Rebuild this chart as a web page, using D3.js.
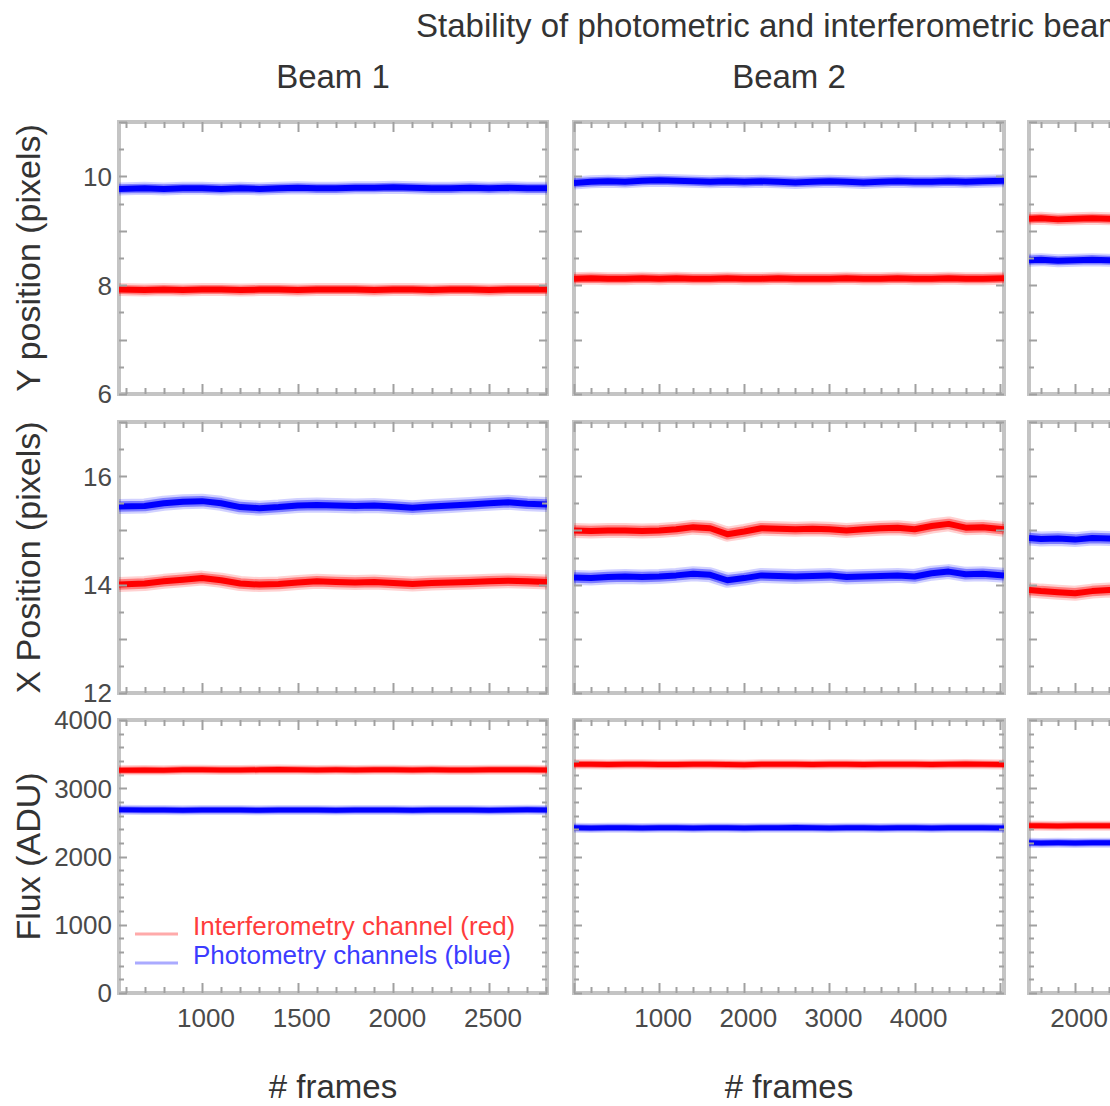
<!DOCTYPE html>
<html>
<head>
<meta charset="utf-8">
<script src="https://cdn.jsdelivr.net/npm/d3@7"></script>
<style>
  body { margin: 0; background: #fff; }
  svg { display: block; }
  text { font-family: "Liberation Sans", Arial, Helvetica, sans-serif; }
</style>
</head>
<body>
<svg id="chart" width="1110" height="1106"></svg>
<script>
// ---- Beam 1 (frames sampled every 100) ----
const beam1Frames    = [566, 700, 800, 900, 1000, 1100, 1200, 1300, 1400, 1500, 1600, 1700, 1800, 1900, 2000, 2100, 2200, 2300, 2400, 2500, 2600, 2700, 2803];
const beam1YBlue     = [9.77, 9.78, 9.77, 9.78, 9.78, 9.77, 9.78, 9.77, 9.78, 9.79, 9.78, 9.78, 9.79, 9.79, 9.80, 9.79, 9.78, 9.78, 9.79, 9.78, 9.79, 9.78, 9.78];
const beam1YRed      = [7.92, 7.91, 7.92, 7.91, 7.92, 7.92, 7.91, 7.92, 7.92, 7.91, 7.92, 7.92, 7.92, 7.91, 7.92, 7.92, 7.91, 7.92, 7.92, 7.91, 7.92, 7.92, 7.92];
const beam1XBlue     = [15.44, 15.45, 15.50, 15.53, 15.54, 15.50, 15.43, 15.41, 15.43, 15.46, 15.47, 15.46, 15.45, 15.46, 15.44, 15.42, 15.44, 15.46, 15.48, 15.50, 15.52, 15.49, 15.48];
const beam1XRed      = [14.00, 14.02, 14.06, 14.09, 14.12, 14.08, 14.02, 14.00, 14.01, 14.04, 14.06, 14.05, 14.04, 14.05, 14.03, 14.01, 14.03, 14.04, 14.05, 14.06, 14.07, 14.06, 14.05];
const beam1FluxRed   = [3262, 3268, 3265, 3270, 3272, 3268, 3266, 3270, 3274, 3270, 3268, 3271, 3269, 3272, 3270, 3267, 3270, 3268, 3266, 3270, 3272, 3270, 3268];
const beam1FluxBlue  = [2684, 2680, 2682, 2679, 2681, 2683, 2680, 2678, 2681, 2682, 2680, 2679, 2681, 2683, 2680, 2678, 2680, 2682, 2681, 2679, 2682, 2684, 2680];

// ---- Beam 2 (frames sampled every 200) ----
const beam2Frames    = [0, 200, 400, 600, 800, 1000, 1200, 1400, 1600, 1800, 2000, 2200, 2400, 2600, 2800, 3000, 3200, 3400, 3600, 3800, 4000, 4200, 4400, 4600, 4800, 5050];
const beam2YBlue     = [9.88, 9.90, 9.91, 9.90, 9.92, 9.93, 9.92, 9.91, 9.90, 9.91, 9.90, 9.91, 9.90, 9.89, 9.90, 9.91, 9.90, 9.89, 9.90, 9.91, 9.90, 9.90, 9.91, 9.90, 9.91, 9.92];
const beam2YRed      = [8.12, 8.13, 8.12, 8.12, 8.13, 8.12, 8.13, 8.12, 8.12, 8.13, 8.12, 8.12, 8.13, 8.12, 8.12, 8.12, 8.13, 8.12, 8.12, 8.13, 8.12, 8.12, 8.13, 8.12, 8.12, 8.13];
const beam2XRed      = [15.00, 14.99, 15.00, 15.00, 14.99, 15.00, 15.02, 15.06, 15.04, 14.93, 14.98, 15.04, 15.03, 15.02, 15.03, 15.02, 15.00, 15.02, 15.04, 15.05, 15.02, 15.08, 15.12, 15.05, 15.06, 15.02];
const beam2XBlue     = [14.13, 14.12, 14.14, 14.15, 14.14, 14.15, 14.17, 14.20, 14.18, 14.08, 14.12, 14.17, 14.16, 14.15, 14.16, 14.17, 14.14, 14.15, 14.16, 14.17, 14.15, 14.21, 14.24, 14.19, 14.20, 14.17];
const beam2FluxRed   = [3350, 3352, 3348, 3351, 3353, 3349, 3347, 3350, 3352, 3349, 3346, 3350, 3353, 3351, 3348, 3350, 3352, 3349, 3351, 3350, 3353, 3348, 3351, 3354, 3350, 3349];
const beam2FluxBlue  = [2420, 2418, 2421, 2423, 2419, 2420, 2422, 2418, 2420, 2421, 2417, 2420, 2423, 2425, 2421, 2419, 2420, 2422, 2418, 2421, 2420, 2419, 2422, 2420, 2421, 2419];

// ---- Beam 3 (frames sampled every 200) ----
const beam3Frames    = [1460, 1600, 1800, 2000, 2200, 2400, 2600, 2800];
const beam3YRed      = [9.22, 9.23, 9.21, 9.22, 9.23, 9.22, 9.21, 9.22];
const beam3YBlue     = [8.46, 8.47, 8.45, 8.46, 8.47, 8.46, 8.45, 8.46];
const beam3XBlue     = [14.86, 14.84, 14.85, 14.83, 14.86, 14.85, 14.84, 14.85];
const beam3XRed      = [13.90, 13.88, 13.86, 13.84, 13.88, 13.90, 13.87, 13.88];
const beam3FluxRed   = [2450, 2452, 2448, 2451, 2449, 2450, 2452, 2450];
const beam3FluxBlue  = [2200, 2198, 2201, 2199, 2202, 2200, 2198, 2200];

// ---- Axes and labels ----
const beamTitles      = ["Beam 1", "Beam 2", "Beam 3"];
const rowTitles       = ["Y position (pixels)", "X Position (pixels)", "Flux (ADU)"];
const yPosTicks       = [6, 8, 10];
const xPosTicks       = [12, 14, 16];
const fluxTicks       = [0, 1000, 2000, 3000, 4000];
const beam1FrameTicks = [1000, 1500, 2000, 2500];
const beam2FrameTicks = [1000, 2000, 3000, 4000];
const beam3FrameTicks = [2000, 3000, 4000, 5000, 6000];
const legendLabels    = ["Interferometry channel (red)", "Photometry channels (blue)"];
const chartTitle      = "Stability of photometric and interferometric beams";
const xAxisTitle      = "# frames";

const RED = "#ff0000", BLUE = "#0000ff";
const FRAME = "#c4c4c4", TICK = "#a0a0a0", LABEL = "#4a4a4a", INK = "#333";

const svg = d3.select("#chart");

const columns = [
  { left: 119,  width: 428, domain: [566, 2803], minor: 100, major: 500,  ticks: beam1FrameTicks, frames: beam1Frames,
    rows: [[beam1YRed, beam1YBlue], [beam1XRed, beam1XBlue], [beam1FluxRed, beam1FluxBlue]] },
  { left: 574,  width: 430, domain: [0, 5050],   minor: 200, major: 1000, ticks: beam2FrameTicks, frames: beam2Frames,
    rows: [[beam2YRed, beam2YBlue], [beam2XRed, beam2XBlue], [beam2FluxRed, beam2FluxBlue]] },
  { left: 1029, width: 430, domain: [1460, 6500], minor: 200, major: 1000, ticks: beam3FrameTicks, frames: beam3Frames,
    rows: [[beam3YRed, beam3YBlue], [beam3XRed, beam3XBlue], [beam3FluxRed, beam3FluxBlue]] }
];

const rows = [
  { top: 122, height: 272, domain: [6, 11],   minor: 0.5, major: 1,    ticks: yPosTicks, halo: 13, core: 6 },
  { top: 422, height: 271, domain: [12, 17],  minor: 0.5, major: 1,    ticks: xPosTicks, halo: 15, core: 6 },
  { top: 720, height: 273, domain: [0, 4000], minor: 200, major: 1000, ticks: fluxTicks, halo: 10, core: 5 }
];

function range(d0, d1, step) {
  const out = [];
  const start = Math.ceil(d0 / step - 1e-9) * step;
  for (let v = start; v <= d1 + 1e-9; v += step) out.push(+v.toFixed(6));
  return out;
}
const isMultiple = (v, m) => Math.abs(v / m - Math.round(v / m)) < 1e-6;

// Title
svg.append("text").attr("x", 416).attr("y", 37)
  .attr("font-size", 33).attr("fill", INK).text(chartTitle);

columns.forEach((col, ci) => {
  const x = d3.scaleLinear().domain(col.domain).range([col.left, col.left + col.width]);
  const cx = col.left + col.width / 2;

  svg.append("text").attr("x", cx).attr("y", 88).attr("text-anchor", "middle")
    .attr("font-size", 33).attr("fill", INK).text(beamTitles[ci]);
  svg.append("text").attr("x", cx).attr("y", 1098).attr("text-anchor", "middle")
    .attr("font-size", 33).attr("fill", INK).text(xAxisTitle);

  rows.forEach((row, ri) => {
    const y = d3.scaleLinear().domain(row.domain).range([row.top + row.height, row.top]);
    const g = svg.append("g");
    const clipId = `clip-${ci}-${ri}`;
    svg.append("clipPath").attr("id", clipId).append("rect")
      .attr("x", col.left).attr("y", row.top).attr("width", col.width).attr("height", row.height);

    // frame
    g.append("rect").attr("x", col.left).attr("y", row.top)
      .attr("width", col.width).attr("height", row.height)
      .attr("fill", "none").attr("stroke", FRAME).attr("stroke-width", 4);

    // series: faint scatter band with a solid core
    const line = d3.line().x((d, i) => x(col.frames[i])).y(d => y(d));
    const lines = g.append("g").attr("clip-path", `url(#${clipId})`);
    col.rows[ri].forEach((vals, si) => {
      const color = si === 0 ? RED : BLUE;
      lines.append("path").datum(vals).attr("d", line)
        .attr("fill", "none").attr("stroke", color).attr("stroke-opacity", 0.18)
        .attr("stroke-width", row.halo).attr("stroke-linejoin", "round");
      lines.append("path").datum(vals).attr("d", line)
        .attr("fill", "none").attr("stroke", color).attr("stroke-opacity", 0.4)
        .attr("stroke-width", row.halo * 0.7).attr("stroke-linejoin", "round");
      lines.append("path").datum(vals).attr("d", line)
        .attr("fill", "none").attr("stroke", color)
        .attr("stroke-width", row.core).attr("stroke-linejoin", "round");
    });

    // x ticks (top and bottom, pointing inward)
    const bottom = row.top + row.height;
    range(col.domain[0], col.domain[1], col.minor).forEach(v => {
      const len = isMultiple(v, col.major) ? 10 : 6;
      const px = Math.round(x(v)) + 0.5;
      g.append("line").attr("x1", px).attr("x2", px).attr("y1", bottom).attr("y2", bottom - len)
        .attr("stroke", TICK).attr("stroke-width", 2);
      g.append("line").attr("x1", px).attr("x2", px).attr("y1", row.top).attr("y2", row.top + len)
        .attr("stroke", TICK).attr("stroke-width", 2);
    });
    // y ticks (left and right, pointing inward)
    range(row.domain[0], row.domain[1], row.minor).forEach(v => {
      const len = isMultiple(v, row.major) ? 8 : 5;
      const py = Math.round(y(v)) + 0.5;
      g.append("line").attr("x1", col.left).attr("x2", col.left + len).attr("y1", py).attr("y2", py)
        .attr("stroke", TICK).attr("stroke-width", 2);
      g.append("line").attr("x1", col.left + col.width).attr("x2", col.left + col.width - len).attr("y1", py).attr("y2", py)
        .attr("stroke", TICK).attr("stroke-width", 2);
    });

    // y labels and row titles only on the first column
    if (ci === 0) {
      row.ticks.forEach(v => {
        g.append("text").attr("x", col.left - 7).attr("y", y(v)).attr("dy", "0.36em")
          .attr("text-anchor", "end").attr("font-size", 26).attr("fill", LABEL).text(v);
      });
      const my = row.top + row.height / 2;
      svg.append("text").attr("transform", `translate(40,${my}) rotate(-90)`)
        .attr("text-anchor", "middle").attr("font-size", 34).attr("fill", INK).text(rowTitles[ri]);
    }
    // frame labels on the bottom row
    if (ri === 2) {
      col.ticks.forEach(v => {
        g.append("text").attr("x", x(v) + 4).attr("y", bottom + 34).attr("text-anchor", "middle")
          .attr("font-size", 26).attr("fill", LABEL).text(v);
      });
    }
  });
});

// Legend (Beam 1, flux panel)
const legend = svg.append("g");
[["#ffaaaa", "#ff3c3c"], ["#aaaaff", "#3c3cff"]].forEach((c, i) => {
  const ly = 934 + i * 29;
  legend.append("line").attr("x1", 135).attr("x2", 178).attr("y1", ly).attr("y2", ly)
    .attr("stroke", c[0]).attr("stroke-width", 3);
  legend.append("text").attr("x", 193).attr("y", ly + 1).attr("font-size", 26)
    .attr("fill", c[1]).text(legendLabels[i]);
});
</script>
</body>
</html>
